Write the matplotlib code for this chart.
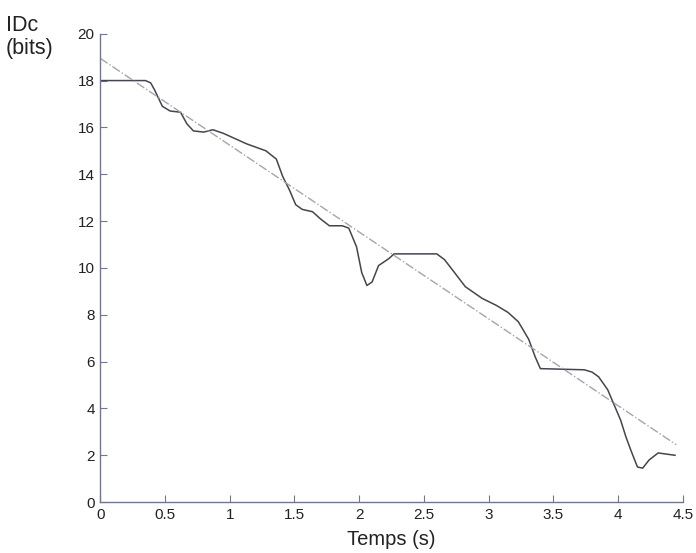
import numpy as np
import matplotlib.pyplot as plt

plt.rcParams['font.family'] = ['Liberation Sans', 'DejaVu Sans']

# IDc curve
t_values = [0.0, 0.35, 0.39, 0.42, 0.48, 0.54, 0.62, 0.67, 0.72, 0.8, 0.87,
            0.95, 1.13, 1.28, 1.36, 1.41, 1.46, 1.51, 1.56, 1.64, 1.7, 1.77,
            1.87, 1.92, 1.98, 2.02, 2.06, 2.1, 2.15, 2.23, 2.27, 2.6, 2.66,
            2.73, 2.82, 2.95, 3.06, 3.15, 3.23, 3.31, 3.36, 3.4, 3.74, 3.8,
            3.85, 3.92, 3.97, 4.02, 4.06, 4.1, 4.15, 4.19, 4.24, 4.31, 4.44]
idc_values = [18.0, 18.0, 17.9, 17.6, 16.9, 16.7, 16.65, 16.15, 15.85, 15.8,
              15.9, 15.75, 15.3, 15.0, 14.65, 13.9, 13.35, 12.7, 12.5, 12.4,
              12.1, 11.8, 11.8, 11.7, 10.9, 9.8, 9.25, 9.4, 10.1, 10.4, 10.6,
              10.6, 10.35, 9.85, 9.2, 8.7, 8.4, 8.1, 7.7, 6.95, 6.2, 5.7, 5.65,
              5.55, 5.35, 4.8, 4.15, 3.5, 2.8, 2.2, 1.5, 1.45, 1.8, 2.1, 2.0]

# regression line end points
fit_t = [0.0, 4.45]
fit_idc = [18.95, 2.45]

fig = plt.figure(figsize=(6.96, 5.53), dpi=100)
ax = fig.add_axes([0.144, 0.092, 0.837, 0.847])

ax.plot(t_values, idc_values, color='#45454f', linewidth=1.1)
ax.plot(fit_t, fit_idc, color='#a4a4b2', linewidth=1.0, linestyle='-.')

ax.set_xlim(0, 4.5)
ax.set_ylim(0, 20)
ax.set_xticks(np.arange(0, 4.51, 0.5))
ax.set_xticklabels(['0', '0.5', '1', '1.5', '2', '2.5', '3', '3.5', '4', '4.5'])
ax.set_yticks(range(0, 21, 2))

for side in ['top', 'right']:
    ax.spines[side].set_visible(False)
for side in ['left', 'bottom']:
    ax.spines[side].set_color('#6f7890')
    ax.spines[side].set_linewidth(1.0)

ax.tick_params(direction='in', length=5, color='#6f7890', labelsize=11,
               labelcolor='#222222', pad=4)

fig.text(0.008, 0.972, 'IDc\n(bits)', fontsize=15.5, color='#222222',
         va='top', ha='left', linespacing=1.1)
ax.set_xlabel('Temps (s)', fontsize=14.5, color='#222222', labelpad=6)

fig.savefig('out.png', dpi=100)
